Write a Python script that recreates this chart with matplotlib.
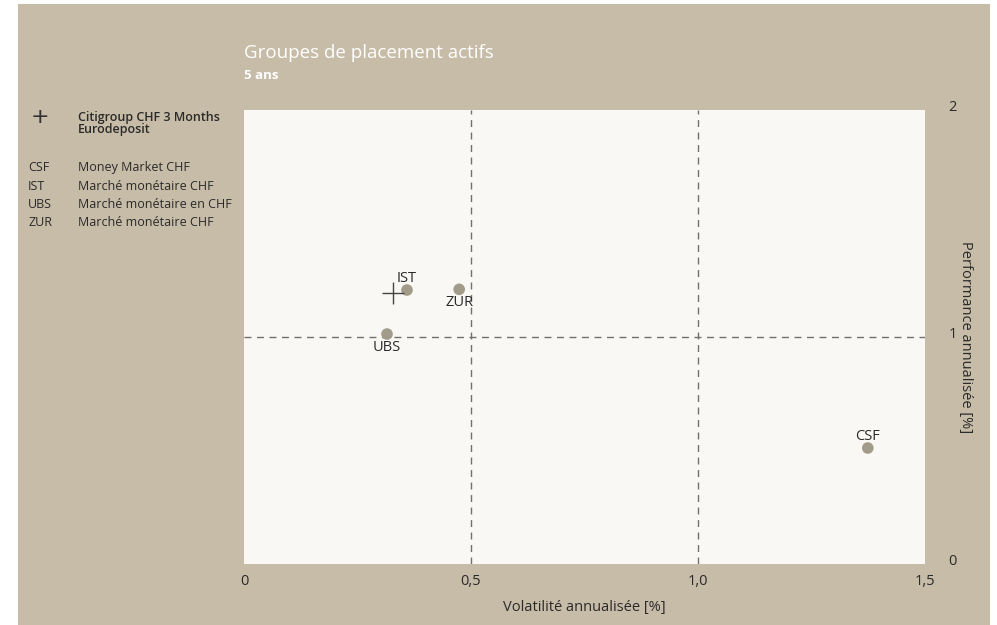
import matplotlib
matplotlib.use("Agg")
import matplotlib.pyplot as plt
from matplotlib.patches import Rectangle

FAM = ['Open Sans', 'DejaVu Sans']
plt.rcParams['font.family'] = FAM

# Data
codes = ['CSF', 'IST', 'UBS', 'ZUR']
names = ['Money Market CHF', 'Marché monétaire CHF', 'Marché monétaire en CHF', 'Marché monétaire CHF']
volatility = [1.374, 0.359, 0.315, 0.474]
performance = [0.511, 1.207, 1.013, 1.210]
label_pos = ['above', 'above', 'below', 'below']
bench_name = 'Citigroup CHF 3 Months\nEurodeposit'
bench_vol = 0.328
bench_perf = 1.194
xticks = [0, 0.5, 1.0, 1.5]
xticklabels = ['0', '0,5', '1,0', '1,5']
yticks = [0, 1, 2]
yticklabels = ['0', '1', '2']

BEIGE = '#C7BCA7'
PLOT_BG = '#F9F8F4'
DOT = '#A39B89'
TXT = '#2a2a2a'

W, H = 997, 625
fig = plt.figure(figsize=(W / 100, H / 100), dpi=100)
fig.patch.set_facecolor('white')
fig.patches.append(Rectangle((18 / W, 0), (990 - 18) / W, (625 - 4) / H,
                             transform=fig.transFigure, facecolor=BEIGE,
                             edgecolor='none', zorder=-10))

left, right, top, bottom = 244, 925, 110, 564
ax = fig.add_axes([left / W, 1 - bottom / H, (right - left) / W, (bottom - top) / H])
ax.set_zorder(2)
ax.set_facecolor(PLOT_BG)
for s in ax.spines.values():
    s.set_visible(False)
ax.set_xlim(0, 1.5)
ax.set_ylim(0, 2)

for xv in [0.5, 1.0]:
    ax.axvline(xv, color='#707070', lw=1.0, ls=(0, (5, 4)), zorder=1)
ax.axhline(1.0, color='#707070', lw=1.0, ls=(0, (5, 4)), zorder=1)

ax.scatter(volatility, performance, s=70, color=DOT, edgecolors='none', zorder=3)
for c, xv, yv, pos in zip(codes, volatility, performance, label_pos):
    if pos == 'above':
        ax.annotate(c, (xv, yv), xytext=(0, 3), textcoords='offset points',
                    ha='center', va='bottom', fontsize=10.5, color=TXT)
    else:
        ax.annotate(c, (xv, yv), xytext=(0, -4), textcoords='offset points',
                    ha='center', va='top', fontsize=10.5, color=TXT)

ax.scatter([bench_vol], [bench_perf], marker='+', s=260, color='#444444',
           linewidths=1.0, zorder=4)

ax.set_xticks(xticks)
ax.set_xticklabels(xticklabels, fontsize=10.5, color=TXT)
ax.set_yticks(yticks)
ax.set_yticklabels(yticklabels, fontsize=10.5, color=TXT)
ax.yaxis.tick_right()
ax.tick_params(axis='both', length=0)
ax.tick_params(axis='x', pad=7)
ax.tick_params(axis='y', pad=17)
for lab in ax.get_yticklabels():
    lab.set_verticalalignment('center')
    lab.set_y(lab.get_position()[1])
import matplotlib.transforms as mtransforms
offset = mtransforms.ScaledTranslation(0, 2 / 72, fig.dpi_scale_trans)
for lab in ax.get_yticklabels():
    lab.set_transform(lab.get_transform() + offset)

ax.set_xlabel('Volatilité annualisée [%]', fontsize=10.5, color=TXT, labelpad=8)
ax.yaxis.set_label_position('right')
ax.set_ylabel('Performance annualisée [%]', fontsize=10.5, color=TXT,
              rotation=-90, va='center', ha='center')
ax.yaxis.set_label_coords((965 - left) / (right - left), 0.5)

# Title
fig.text(left / W, 1 - 58 / H, 'Groupes de placement actifs', fontsize=13.5,
         color='white', ha='left', va='baseline')
fig.text(left / W, 1 - 79 / H, '5 ans', fontsize=9.5, fontweight='bold',
         color='white', ha='left', va='baseline')

# Legend
fig.text(40 / W, 1 - 117 / H, '+', fontsize=16, color='#333333', ha='center',
         va='center', family=['DejaVu Sans'])
fig.text(78 / W, 1 - 111 / H, bench_name, fontsize=9, color=TXT, ha='left',
         va='top', linespacing=0.95, fontweight='semibold')
for i, (c, n) in enumerate(zip(codes, names)):
    yy = 1 - (168 + 18 * i) / H
    fig.text(28 / W, yy, c, fontsize=9, color=TXT, ha='left', va='center')
    fig.text(78 / W, yy, n, fontsize=9, color=TXT, ha='left', va='center')

fig.savefig('out.png', dpi=100, facecolor=fig.get_facecolor())
